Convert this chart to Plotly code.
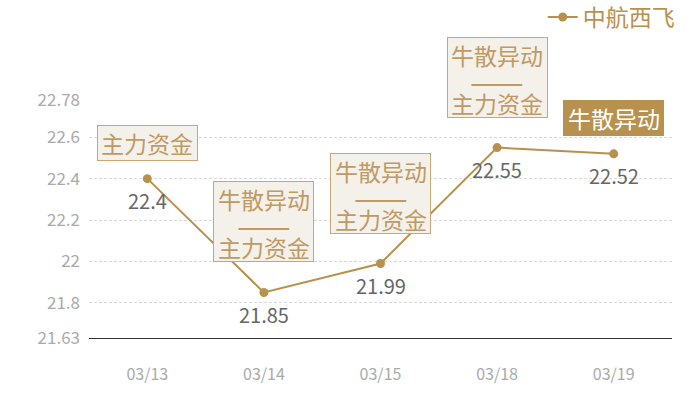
import plotly.graph_objects as go

dates = ["03/13", "03/14", "03/15", "03/18", "03/19"]
prices = [22.4, 21.85, 21.99, 22.55, 22.52]
tag_lines = [["主力资金"], ["牛散异动", "——", "主力资金"], ["牛散异动", "——", "主力资金"],
             ["牛散异动", "——", "主力资金"], ["牛散异动"]]
tag_filled = [False, False, False, False, True]
series_name = "中航西飞"
ytick_vals = [21.63, 21.8, 22, 22.2, 22.4, 22.6, 22.78]
ytick_text = ["21.63", "21.8", "22", "22.2", "22.4", "22.6", "22.78"]

gold = "#b8914f"
tag_text = "#bf9a62"
font = "Noto Sans CJK SC"
xs = list(range(len(dates)))

fig = go.Figure()
fig.add_trace(go.Scatter(
    x=xs, y=prices, mode="lines+markers", name=series_name,
    line=dict(color=gold, width=2),
    marker=dict(color=gold, size=9),
))

for i, p in zip(xs, prices):
    fig.add_annotation(x=i, y=p, text=f"{p:g}", showarrow=False,
                       yanchor="middle", yshift=-22,
                       font=dict(family=font, size=20, color="#666666"))

for i, p, lines, f in zip(xs, prices, tag_lines, tag_filled):
    if len(lines) == 1:
        box_bottom, box_h = 18, 34
        centers = [35.5]
    else:
        box_bottom, box_h = 30, 79
        centers = [93, 68, 45]
    # box behind the tag text
    fig.add_annotation(x=i, y=p, text=" ", showarrow=False, yanchor="bottom",
                       yshift=box_bottom, width=99, height=box_h, borderpad=0,
                       bgcolor=gold if f else "#f4f0ea",
                       bordercolor=gold if f else "#c9a775", borderwidth=1)
    for line, c in zip(lines, centers):
        fig.add_annotation(x=i, y=p, text=line, showarrow=False, yanchor="middle",
                           yshift=c,
                           font=dict(family=font, size=(32 if line == "——" else 23),
                                     color="#ffffff" if f else tag_text))

fig.update_layout(
    width=700, height=400,
    margin=dict(l=89, r=28, t=100, b=62),
    paper_bgcolor="white", plot_bgcolor="white",
    font=dict(family=font),
    showlegend=True,
    legend=dict(orientation="h", xref="container", x=0.971, xanchor="right",
                yref="container", y=0.9575, yanchor="middle",
                font=dict(size=23, color=gold, family=font),
                bgcolor="rgba(0,0,0,0)", itemwidth=30),
    xaxis=dict(range=[-0.5, 4.5], tickvals=xs, ticktext=dates, showgrid=False,
               zeroline=False, showline=True, linecolor="#333333", linewidth=1,
               ticks="", ticklabelstandoff=22,
               tickfont=dict(size=16, color="#aaaaaa", family=font)),
    yaxis=dict(range=[21.63, 22.78], tickvals=ytick_vals, ticktext=ytick_text,
               showgrid=True, gridcolor="#d9d9d9", griddash="3px,2px", gridwidth=1,
               zeroline=False, showline=False, ticks="", ticklabelstandoff=8,
               tickfont=dict(size=17, color="#aaaaaa", family=font)),
)

fig.write_html("out.html", config={"displayModeBar": False},
               post_script="document.body.style.margin='0';")
